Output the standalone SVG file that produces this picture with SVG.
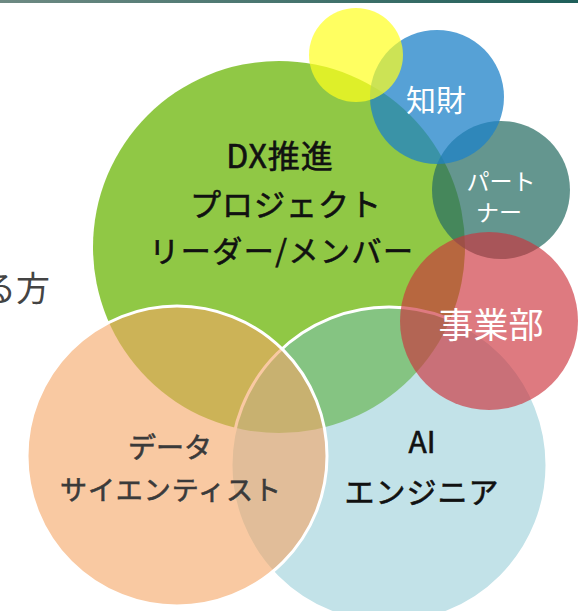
<svg xmlns="http://www.w3.org/2000/svg" width="578" height="611" viewBox="0 0 578 611">
<defs>
<linearGradient id="topbar" x1="0" y1="0" x2="1" y2="0">
<stop offset="0" stop-color="#6e8a83"/>
<stop offset="1" stop-color="#1f5f5a"/>
</linearGradient>
</defs>
<style>
.jp{font-family:"Noto Sans CJK JP","Noto Sans",sans-serif;text-anchor:middle;font-weight:400}
.dark{fill:#111;stroke:#111;stroke-width:0.6}
.gray{fill:#3a3a3a;stroke:#3a3a3a;stroke-width:0.6}
.white{fill:#fff}
.ring{stroke:#fff;stroke-width:3}
</style>
<rect x="0" y="0" width="578" height="3" fill="url(#topbar)"/>
<text x="50" y="301" font-family="'Noto Sans CJK JP',sans-serif" font-size="34" fill="#444" text-anchor="end">る方</text>
<g id="dx">
<circle cx="279" cy="247" r="186" fill="#8cc63f" fill-opacity="0.97"/>
</g>
<g id="ai">
<circle class="ring" cx="389" cy="465" r="158" fill="rgb(120,190,205)" fill-opacity="0.45"/>
</g>
<g id="ds">
<circle class="ring" cx="177" cy="456" r="150" fill="rgb(245,165,100)" fill-opacity="0.6"/>
</g>
<g id="partner">
<circle cx="501" cy="190" r="69" fill="rgb(40,110,100)" fill-opacity="0.72"/>
</g>
<g id="chizai">
<circle cx="437" cy="97" r="67" fill="rgb(30,130,200)" fill-opacity="0.75"/>
</g>
<g id="yellow">
<circle cx="356" cy="55" r="47" fill="rgb(255,255,30)" fill-opacity="0.7"/>
</g>
<g id="jigyo">
<circle cx="489" cy="321" r="89" fill="rgb(205,50,60)" fill-opacity="0.65"/>
</g>
<g id="labels">
<text class="jp dark" x="280" y="168" font-size="32" letter-spacing="1">DX推進</text>
<text class="jp dark" x="286" y="216" font-size="31" letter-spacing="1">プロジェクト</text>
<text class="jp dark" x="282" y="262" font-size="30" letter-spacing="1.5">リーダー/メンバー</text>
<text class="jp gray" x="170" y="458" font-size="28">データ</text>
<text class="jp gray" x="171" y="500" font-size="27" letter-spacing="1">サイエンティスト</text>
<text class="jp dark" x="422" y="453" font-size="30">AI</text>
<text class="jp dark" x="422" y="503" font-size="30" letter-spacing="1">エンジニア</text>
<text class="jp white" x="436" y="111" font-size="30">知財</text>
<text class="jp white" x="501" y="190" font-size="23">パート</text>
<text class="jp white" x="499" y="221" font-size="23">ナー</text>
<text class="jp white" x="491" y="338" font-size="35">事業部</text>
</g>
</svg>
